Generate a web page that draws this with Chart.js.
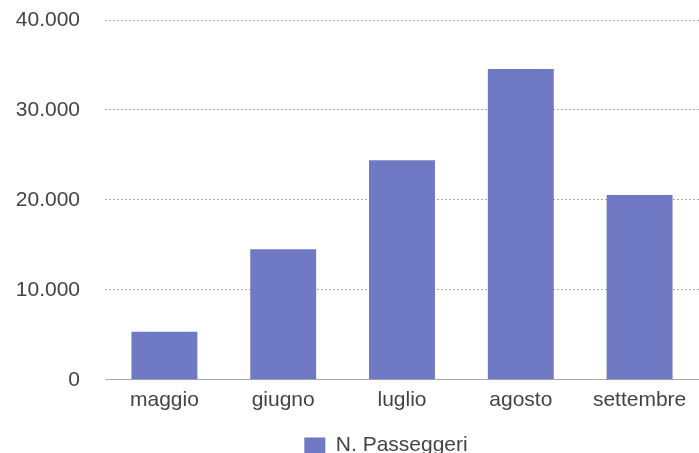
<!DOCTYPE html>
<html>
<head>
<meta charset="utf-8">
<script src="https://cdn.jsdelivr.net/npm/chart.js@4/dist/chart.umd.min.js"></script>
<style>
    html, body { margin: 0; padding: 0; background: #fff; }
    #wrap { width: 699px; height: 453px; position: relative; }
</style>
</head>
<body>
<div id="wrap"><canvas id="passeggeriChart"></canvas></div>
<script>
    var mesi = ["maggio", "giugno", "luglio", "agosto", "settembre"];
    var passeggeri = [5350, 14500, 24400, 34550, 20550];
    var yTicks = [0, 10000, 20000, 30000, 40000];

    function formatNumero(value) {
        return String(value).replace(/\B(?=(\d{3})+(?!\d))/g, '.');
    }

    var fontFamily = "'Liberation Sans', Arial, Helvetica, sans-serif";

    var ctx = document.getElementById('passeggeriChart').getContext('2d');
    new Chart(ctx, {
        type: 'bar',
        data: {
            labels: mesi,
            datasets: [{
                label: 'N. Passeggeri',
                data: passeggeri,
                backgroundColor: '#6f79c4',
                borderColor: '#6f79c4',
                borderWidth: 0,
                barPercentage: 0.555,
                categoryPercentage: 1
            }]
        },
        options: {
            responsive: true,
            maintainAspectRatio: false,
            animation: false,
            layout: { padding: { top: 0, right: 0, bottom: -13, left: 0 } },
            plugins: {
                tooltip: { enabled: false },
                legend: {
                    position: 'bottom',
                    fullSize: false,
                    labels: {
                        boxWidth: 21,
                        boxHeight: 16,
                        padding: 14,
                        color: '#444',
                        font: { family: fontFamily, size: 21 }
                    }
                }
            },
            scales: {
                x: {
                    grid: { display: false, drawTicks: false },
                    border: { display: true, color: '#aaaaaa', width: 1 },
                    ticks: {
                        color: '#444',
                        padding: 8,
                        font: { family: fontFamily, size: 21 }
                    }
                },
                y: {
                    min: 0,
                    max: 40000,
                    afterBuildTicks: function (axis) {
                        axis.ticks = yTicks.map(function (v) { return { value: v }; });
                    },
                    afterFit: function (axis) {
                        axis.width = 105;
                        axis.paddingTop = 20;
                        axis.paddingBottom = 0;
                    },
                    border: { display: false, dash: [2, 2] },
                    grid: {
                        drawTicks: false,
                        color: '#aaaaaa',
                        lineWidth: 1
                    },
                    ticks: {
                        color: '#444',
                        padding: 25,
                        font: { family: fontFamily, size: 21 },
                        callback: function (value) { return formatNumero(value); }
                    }
                }
            }
        },
        plugins: [{
            // la legenda nell'originale è un po' spostata a sinistra
            id: 'legendShift',
            afterLayout: function (chart) {
                if (chart.legend) {
                    chart.legend.left -= 16;
                    chart.legend.right -= 16;
                }
            }
        }]
    });
</script>
</body>
</html>
